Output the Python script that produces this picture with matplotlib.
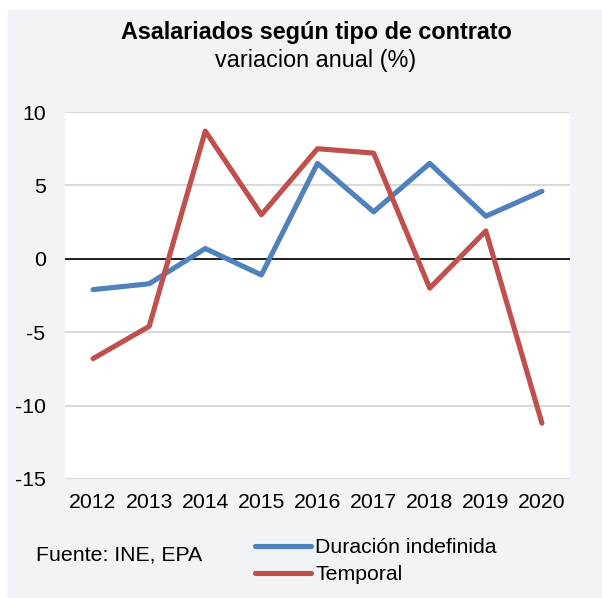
import matplotlib.pyplot as plt
from matplotlib.patches import Rectangle

plt.rcParams['font.family'] = ['Liberation Sans', 'DejaVu Sans']
plt.rcParams['axes.unicode_minus'] = False

years = ['2012', '2013', '2014', '2015', '2016', '2017', '2018', '2019', '2020']
indefinida = [-2.1, -1.7, 0.7, -1.1, 6.5, 3.2, 6.5, 2.9, 4.6]
temporal = [-6.8, -4.6, 8.7, 3.0, 7.5, 7.2, -2.0, 1.9, -11.2]

W, H = 602, 598
fig = plt.figure(figsize=(W / 100, H / 100), dpi=100, facecolor='white')

# grey panel behind everything
fig.add_artist(Rectangle((8 / W, 0), 1 - 8 / W, 1 - 10 / H,
                         transform=fig.transFigure, color='#F2F3F7', zorder=-5))

ax = fig.add_axes([65 / W, (H - 479) / H, (570 - 65) / W, (479 - 112) / H])
ax.set_facecolor('white')

x = range(len(years))
ax.plot(x, indefinida, color='#4F81BD', lw=3.7, solid_capstyle='round', label='Duración indefinida', zorder=3)
ax.plot(x, temporal, color='#C0504D', lw=3.7, solid_capstyle='round', label='Temporal', zorder=3)
ax.axhline(0, color='black', lw=1.2, zorder=2)

ax.set_ylim(-15, 10)
ax.set_xlim(-0.5, len(years) - 0.5)
ax.set_yticks([-15, -10, -5, 0, 5, 10])
ax.set_xticks(list(x))
ax.set_xticklabels(years)
ax.yaxis.grid(True, color='#D9D9D9', lw=1.5)
ax.set_axisbelow(True)
for s in ax.spines.values():
    s.set_visible(False)
ax.tick_params(length=0, labelsize=15.3)
ax.tick_params(axis='y', pad=14)
ax.tick_params(axis='x', pad=10)

fig.text(316 / W, 1 - 32 / H, 'Asalariados según tipo de contrato', ha='center', va='center',
         fontsize=16.8, fontweight='bold')
fig.text(316 / W, 1 - 60 / H, 'variacion anual (%)', ha='center', va='center', fontsize=16.8)
fig.text(36 / W, 1 - 555 / H, 'Fuente: INE, EPA', ha='left', va='center', fontsize=15.3)

fig.legend(loc='upper left', bbox_to_anchor=(255 / W, 1 - 538 / H), frameon=False,
           fontsize=15.3, handlelength=2.64, handletextpad=0.2, labelspacing=0.4,
           borderaxespad=0, borderpad=0)

fig.savefig('out.png', dpi=100, facecolor='white')
